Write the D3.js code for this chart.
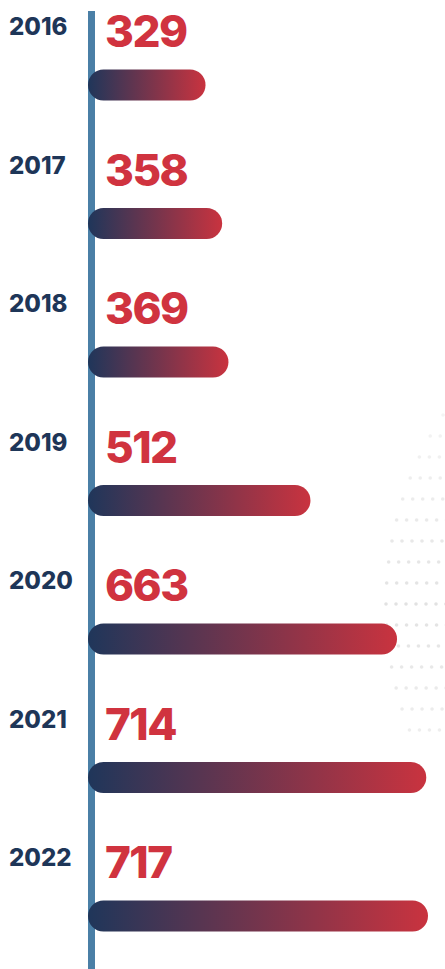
<!DOCTYPE html>
<html>
<head>
<meta charset="utf-8">
<script src="https://cdn.jsdelivr.net/npm/d3@7"></script>
<style>
  html, body { margin: 0; padding: 0; background: #fff; overflow: hidden; }
  svg { display: block; }
</style>
</head>
<body>
<script>
// data
const years = ["2016", "2017", "2018", "2019", "2020", "2021", "2022"];
const values = [329, 358, 369, 512, 663, 714, 717];

const w = 445;
const h = 969;
const axisX = 88;
const barH = 31;

const svg = d3.select("body")
  .append("svg")
  .attr("width", w)
  .attr("height", h);

const defs = svg.append("defs");
const grad = defs.append("linearGradient")
  .attr("id", "barGrad")
  .attr("x1", "0%").attr("x2", "100%")
  .attr("y1", "0%").attr("y2", "0%");
grad.append("stop").attr("offset", "0%").attr("stop-color", "#1f365a");
grad.append("stop").attr("offset", "100%").attr("stop-color", "#c9333f");

// background dot sphere (decoration)
const dots = svg.append("g").attr("class", "dots");
const cy0 = 605, R = 345, cx0 = axisX + 298 + R;
for (let y = 415; y <= 750; y += 21) {
  const dy = y - cy0;
  const left = cx0 - Math.sqrt(R * R - dy * dy);
  for (let x = left; x < w + 4; x += 10) {
    dots.append("circle")
      .attr("cx", x)
      .attr("cy", y)
      .attr("r", 1.8)
      .style("fill", "#e2e2e2")
      .style("opacity", 1 - Math.abs(dy) / 300);
  }
}

const yScale = d3.scalePoint()
  .domain(years)
  .range([85, 916]);

// bars in the original are not strictly proportional; fitted scale
const xScale = d3.scaleLinear()
  .domain([124, 717])
  .range([0, 340]);

// vertical axis line
svg.append("rect")
  .attr("x", axisX)
  .attr("y", 11)
  .attr("width", 7)
  .attr("height", h - 11)
  .style("fill", "#4a7fa6");

const rows = svg.selectAll(".row")
  .data(years.map((y, i) => ({ year: y, value: values[i] })))
  .enter()
  .append("g")
  .attr("class", "row")
  .attr("transform", d => "translate(0," + yScale(d.year) + ")");

rows.append("rect")
  .attr("x", axisX)
  .attr("y", -barH / 2)
  .attr("width", d => xScale(d.value))
  .attr("height", barH)
  .attr("rx", barH / 2)
  .style("fill", "url(#barGrad)");

rows.append("text")
  .attr("x", 9)
  .attr("y", -50)
  .text(d => d.year)
  .style("font-family", "Inter, 'Open Sans', sans-serif")
  .style("font-weight", 800)
  .style("font-size", "24px")
  .style("fill", "#1e3658");

rows.append("text")
  .attr("x", 105)
  .attr("y", -38)
  .text(d => d.value)
  .style("font-family", "Inter, 'Open Sans', sans-serif")
  .style("font-weight", 800)
  .style("font-size", "44px")
  .style("letter-spacing", "-1.5px")
  .style("fill", "#d0333f");
</script>
</body>
</html>
